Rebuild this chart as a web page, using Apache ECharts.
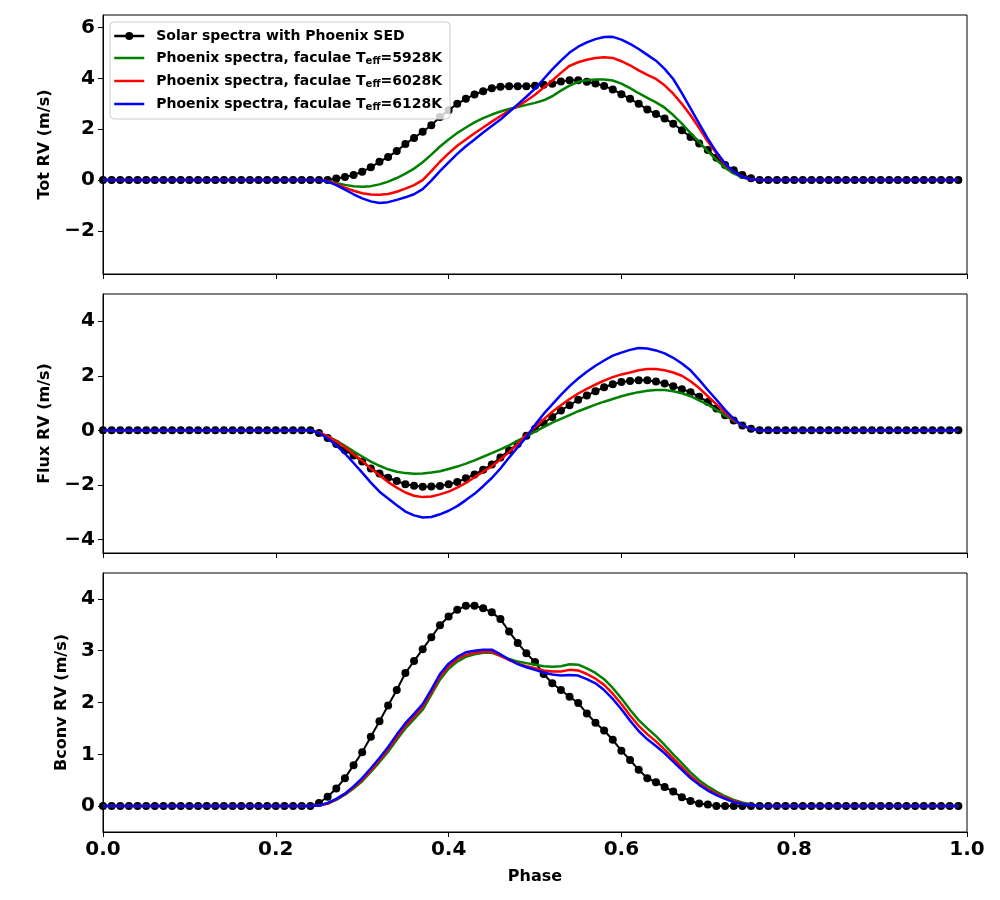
<!DOCTYPE html>
<html>
<head>
<meta charset="utf-8">
<script src="https://cdn.jsdelivr.net/npm/echarts@6/dist/echarts.min.js"></script>
<style>
html, body { margin: 0; padding: 0; background: #fff; }
#main { width: 1000px; height: 900px; }
</style>
</head>
<body>
<div id="main"></div>
<script>
// phase grid of the data
var phase = [
  0.00,0.01,0.02,0.03,0.04,0.05,0.06,0.07,0.08,0.09,
  0.10,0.11,0.12,0.13,0.14,0.15,0.16,0.17,0.18,0.19,
  0.20,0.21,0.22,0.23,0.24,0.25,0.26,0.27,0.28,0.29,
  0.30,0.31,0.32,0.33,0.34,0.35,0.36,0.37,0.38,0.39,
  0.40,0.41,0.42,0.43,0.44,0.45,0.46,0.47,0.48,0.49,
  0.50,0.51,0.52,0.53,0.54,0.55,0.56,0.57,0.58,0.59,
  0.60,0.61,0.62,0.63,0.64,0.65,0.66,0.67,0.68,0.69,
  0.70,0.71,0.72,0.73,0.74,0.75,0.76,0.77,0.78,0.79,
  0.80,0.81,0.82,0.83,0.84,0.85,0.86,0.87,0.88,0.89,
  0.90,0.91,0.92,0.93,0.94,0.95,0.96,0.97,0.98,0.99
];

var seriesNames = [
  'Solar spectra with Phoenix SED',
  'Phoenix spectra, faculae Teff=5928K',
  'Phoenix spectra, faculae Teff=6028K',
  'Phoenix spectra, faculae Teff=6128K'
];

// Tot RV
var totSolar = [
  0,0,0,0,0, 0,0,0,0,0, 0,0,0,0,0, 0,0,0,0,0, 0,0,0,0,0,
  0,0,0.06,0.12,0.2,0.33,0.5,0.72,0.91,1.14,1.42,1.66,1.9,2.16,2.48,2.75,3.0,3.2,3.37,3.5,3.62,3.67,3.69,3.69,3.69,3.71,3.75,3.79,3.88,3.93,3.93,3.87,3.8,3.7,3.57,3.38,3.2,3.0,2.78,2.6,2.42,2.22,1.96,1.7,1.44,1.18,0.88,0.59,0.39,0.2,0.07,
  0,0,0,0,0, 0,0,0,0,0, 0,0,0,0,0, 0,0,0,0,0, 0,0,0,0
];
var tot5928 = [
  0,0,0,0,0, 0,0,0,0,0, 0,0,0,0,0, 0,0,0,0,0, 0,0,0,0,0,
  0,-0.05,-0.12,-0.19,-0.24,-0.26,-0.24,-0.17,-0.06,0.08,0.25,0.45,0.7,1.0,1.32,1.6,1.85,2.07,2.27,2.44,2.58,2.7,2.8,2.88,2.96,3.04,3.14,3.3,3.52,3.72,3.87,3.93,3.96,3.96,3.92,3.8,3.62,3.42,3.24,3.06,2.85,2.56,2.22,1.85,1.5,1.13,0.8,0.48,0.26,0.1,0.03,
  0,0,0,0,0, 0,0,0,0,0, 0,0,0,0,0, 0,0,0,0,0, 0,0,0,0
];
var tot6028 = [
  0,0,0,0,0, 0,0,0,0,0, 0,0,0,0,0, 0,0,0,0,0, 0,0,0,0,0,
  0,-0.05,-0.15,-0.3,-0.42,-0.52,-0.57,-0.58,-0.55,-0.46,-0.34,-0.2,0.0,0.35,0.72,1.05,1.35,1.6,1.84,2.07,2.3,2.52,2.73,2.92,3.12,3.36,3.64,3.92,4.22,4.5,4.64,4.74,4.81,4.84,4.81,4.68,4.52,4.32,4.14,3.98,3.73,3.4,3.0,2.55,2.05,1.52,1.06,0.6,0.33,0.13,0.03,
  0,0,0,0,0, 0,0,0,0,0, 0,0,0,0,0, 0,0,0,0,0, 0,0,0,0
];
var tot6128 = [
  0,0,0,0,0, 0,0,0,0,0, 0,0,0,0,0, 0,0,0,0,0, 0,0,0,0,0,
  0,-0.06,-0.2,-0.38,-0.56,-0.72,-0.84,-0.9,-0.87,-0.78,-0.68,-0.56,-0.36,-0.02,0.35,0.7,1.03,1.33,1.6,1.87,2.13,2.38,2.68,2.98,3.28,3.6,3.98,4.36,4.7,5.02,5.25,5.42,5.55,5.63,5.64,5.53,5.36,5.16,4.93,4.7,4.38,3.98,3.42,2.82,2.22,1.63,1.1,0.65,0.33,0.12,0.03,
  0,0,0,0,0, 0,0,0,0,0, 0,0,0,0,0, 0,0,0,0,0, 0,0,0,0
];

// Flux RV
var fluxSolar = [
  0,0,0,0,0, 0,0,0,0,0, 0,0,0,0,0, 0,0,0,0,0, 0,0,0,0,0,
  -0.1,-0.28,-0.5,-0.73,-0.92,-1.14,-1.4,-1.58,-1.74,-1.86,-1.98,-2.03,-2.07,-2.06,-2.04,-1.98,-1.9,-1.76,-1.62,-1.45,-1.25,-1.0,-0.73,-0.5,-0.2,0.06,0.27,0.49,0.73,0.92,1.12,1.28,1.43,1.58,1.69,1.77,1.81,1.84,1.84,1.79,1.72,1.62,1.51,1.4,1.23,1.04,0.8,0.55,0.36,0.18,0.06,
  0,0,0,0,0, 0,0,0,0,0, 0,0,0,0,0, 0,0,0,0,0, 0,0,0,0
];
var flux5928 = [
  0,0,0,0,0, 0,0,0,0,0, 0,0,0,0,0, 0,0,0,0,0, 0,0,0,0,0,
  -0.08,-0.22,-0.38,-0.57,-0.77,-0.96,-1.15,-1.3,-1.43,-1.52,-1.57,-1.59,-1.58,-1.55,-1.5,-1.42,-1.33,-1.22,-1.1,-0.97,-0.84,-0.7,-0.55,-0.38,-0.22,-0.05,0.12,0.28,0.42,0.56,0.7,0.82,0.94,1.05,1.15,1.25,1.33,1.4,1.45,1.48,1.48,1.43,1.36,1.25,1.1,0.94,0.75,0.55,0.35,0.17,0.05,
  0,0,0,0,0, 0,0,0,0,0, 0,0,0,0,0, 0,0,0,0,0, 0,0,0,0
];
var flux6028 = [
  0,0,0,0,0, 0,0,0,0,0, 0,0,0,0,0, 0,0,0,0,0, 0,0,0,0,0,
  -0.08,-0.22,-0.4,-0.62,-0.88,-1.12,-1.4,-1.65,-1.9,-2.1,-2.28,-2.4,-2.45,-2.43,-2.35,-2.25,-2.1,-1.93,-1.72,-1.52,-1.32,-1.07,-0.8,-0.5,-0.18,0.12,0.4,0.68,0.92,1.15,1.35,1.52,1.68,1.82,1.95,2.05,2.12,2.2,2.25,2.25,2.2,2.12,2.0,1.8,1.55,1.25,0.95,0.65,0.38,0.17,0.06,
  0,0,0,0,0, 0,0,0,0,0, 0,0,0,0,0, 0,0,0,0,0, 0,0,0,0
];
var flux6128 = [
  0,0,0,0,0, 0,0,0,0,0, 0,0,0,0,0, 0,0,0,0,0, 0,0,0,0,0,
  -0.1,-0.3,-0.55,-0.85,-1.2,-1.55,-1.92,-2.25,-2.5,-2.75,-2.98,-3.12,-3.2,-3.18,-3.08,-2.95,-2.78,-2.56,-2.33,-2.05,-1.75,-1.4,-1.0,-0.62,-0.25,0.2,0.6,0.95,1.3,1.62,1.9,2.15,2.37,2.56,2.74,2.85,2.95,3.02,3.0,2.93,2.82,2.66,2.45,2.2,1.85,1.48,1.12,0.75,0.42,0.18,0.06,
  0,0,0,0,0, 0,0,0,0,0, 0,0,0,0,0, 0,0,0,0,0, 0,0,0,0
];

// Bconv RV
var bconvSolar = [
  0,0,0,0,0, 0,0,0,0,0, 0,0,0,0,0, 0,0,0,0,0, 0,0,0,0,0,
  0.06,0.18,0.34,0.54,0.79,1.04,1.34,1.64,1.94,2.24,2.57,2.8,3.03,3.26,3.49,3.66,3.79,3.87,3.87,3.82,3.74,3.61,3.37,3.15,2.95,2.78,2.55,2.37,2.24,2.11,1.99,1.79,1.61,1.46,1.28,1.07,0.89,0.7,0.54,0.46,0.37,0.28,0.17,0.1,0.05,0.03,0,0,0,0,0,
  0,0,0,0,0, 0,0,0,0,0, 0,0,0,0,0, 0,0,0,0,0, 0,0,0,0
];
var bconv5928 = [
  0,0,0,0,0, 0,0,0,0,0, 0,0,0,0,0, 0,0,0,0,0, 0,0,0,0,0,
  0.01,0.05,0.12,0.22,0.34,0.48,0.66,0.85,1.05,1.28,1.5,1.68,1.86,2.15,2.44,2.65,2.79,2.88,2.93,2.96,2.96,2.9,2.84,2.79,2.76,2.73,2.7,2.69,2.7,2.74,2.73,2.66,2.57,2.45,2.28,2.08,1.86,1.66,1.5,1.35,1.18,1.0,0.83,0.65,0.5,0.38,0.28,0.19,0.12,0.07,0.03,
  0,0,0,0,0, 0,0,0,0,0, 0,0,0,0,0, 0,0,0,0,0, 0,0,0,0
];
var bconv6028 = [
  0,0,0,0,0, 0,0,0,0,0, 0,0,0,0,0, 0,0,0,0,0, 0,0,0,0,0,
  0.01,0.05,0.13,0.23,0.36,0.51,0.69,0.89,1.1,1.33,1.55,1.73,1.92,2.2,2.5,2.7,2.84,2.92,2.96,2.98,2.98,2.9,2.82,2.75,2.7,2.66,2.62,2.6,2.6,2.63,2.62,2.55,2.46,2.34,2.17,1.97,1.75,1.55,1.39,1.25,1.09,0.92,0.75,0.58,0.44,0.33,0.24,0.16,0.1,0.05,0.02,
  0,0,0,0,0, 0,0,0,0,0, 0,0,0,0,0, 0,0,0,0,0, 0,0,0,0
];
var bconv6128 = [
  0,0,0,0,0, 0,0,0,0,0, 0,0,0,0,0, 0,0,0,0,0, 0,0,0,0,0,
  0.01,0.06,0.14,0.24,0.38,0.54,0.73,0.93,1.14,1.38,1.6,1.78,1.97,2.25,2.55,2.75,2.88,2.97,3.0,3.02,3.02,2.93,2.83,2.74,2.68,2.63,2.58,2.54,2.52,2.53,2.52,2.45,2.37,2.24,2.07,1.87,1.65,1.45,1.29,1.16,1.02,0.86,0.7,0.54,0.41,0.3,0.21,0.14,0.08,0.04,0.02,
  0,0,0,0,0, 0,0,0,0,0, 0,0,0,0,0, 0,0,0,0,0, 0,0,0,0
];

var totTicks = [-2, 0, 2, 4, 6];
var fluxTicks = [-4, -2, 0, 2, 4];
var bconvTicks = [0, 1, 2, 3, 4];
var phaseTicks = [0, 0.2, 0.4, 0.6, 0.8, 1.0];

var FONT = 'DejaVu Sans';
var colors = ['#000000', '#008000', '#ff0000', '#0000ff'];

var panels = [
  { title: 'Tot RV (m/s)', min: -3.7, max: 6.5, ticks: totTicks, gap: 50,
    data: [totSolar, tot5928, tot6028, tot6128] },
  { title: 'Flux RV (m/s)', min: -4.5, max: 5, ticks: fluxTicks, gap: 50,
    data: [fluxSolar, flux5928, flux6028, flux6128] },
  { title: 'Bconv RV (m/s)', min: -0.5, max: 4.5, ticks: bconvTicks, gap: 32,
    data: [bconvSolar, bconv5928, bconv6028, bconv6128] }
];

function fmtY(v) {
  return v < 0 ? '\u2212' + (-v) : String(v);
}

var grids = [], xAxes = [], yAxes = [], series = [];
panels.forEach(function (p, i) {
  grids.push({
    left: 103, right: 33, top: 15 + i * 279, height: 259,
    show: true, borderColor: '#000', borderWidth: 1, backgroundColor: 'transparent'
  });
  xAxes.push({
    type: 'value', gridIndex: i, min: 0, max: 1,
    axisLine: { show: true, onZero: false, lineStyle: { color: '#000', width: 1 } },
    axisTick: { show: true, length: 5, customValues: phaseTicks, lineStyle: { color: '#000', width: 1 } },
    axisLabel: {
      show: i === 2, customValues: phaseTicks, margin: 8,
      fontFamily: FONT, fontWeight: 'bold', fontSize: 20, color: '#000',
      formatter: function (v) { return v.toFixed(1); }
    },
    splitLine: { show: false },
    name: i === 2 ? 'Phase' : '', nameLocation: 'middle', nameGap: 37,
    nameTextStyle: { fontFamily: FONT, fontWeight: 'bold', fontSize: 16, color: '#000' }
  });
  yAxes.push({
    type: 'value', gridIndex: i, min: p.min, max: p.max,
    axisLine: { show: true, onZero: false, lineStyle: { color: '#000', width: 1 } },
    axisTick: { show: true, length: 5, customValues: p.ticks, lineStyle: { color: '#000', width: 1 } },
    axisLabel: {
      customValues: p.ticks, margin: 8,
      fontFamily: FONT, fontWeight: 'bold', fontSize: 20, color: '#000',
      formatter: fmtY
    },
    splitLine: { show: false },
    name: p.title, nameLocation: 'middle', nameGap: p.gap,
    nameTextStyle: { fontFamily: FONT, fontWeight: 'bold', fontSize: 16, color: '#000' }
  });
  p.data.forEach(function (vals, k) {
    var pts = phase.map(function (x, j) { return [x, vals[j]]; });
    series.push({
      name: seriesNames[k], type: 'line', xAxisIndex: i, yAxisIndex: i,
      data: pts, color: colors[k],
      symbol: k === 0 ? 'circle' : 'none', symbolSize: 8, showSymbol: k === 0,
      itemStyle: { color: colors[k] },
      lineStyle: { color: colors[k], width: k === 0 ? 2 : 2.5 },
      z: 2 + k
    });
  });
});

// legend: only the solar series shows a marker on its handle
var legendData = seriesNames.map(function (n, k) {
  return k === 0 ? { name: n } : { name: n, itemStyle: { opacity: 0 } };
});

var myChart = echarts.init(document.getElementById('main'));
var option = {
  backgroundColor: '#fff',
  animation: false,
  grid: grids,
  xAxis: xAxes,
  yAxis: yAxes,
  legend: {
    data: legendData,
    orient: 'vertical',
    left: 110, top: 22,
    itemWidth: 30, itemHeight: 10, itemGap: 8,
    padding: [7, 8, 7, 3],
    backgroundColor: 'rgba(255,255,255,0.8)',
    borderColor: '#cccccc', borderWidth: 1, borderRadius: 4,
    lineStyle: { width: 2.5 },
    formatter: function (name) {
      var m = name.match(/^(.*T)eff(=.*)$/);
      if (m) return '{g|}{b|' + m[1] + '}{s|eff}{b|' + m[2] + '}';
      return '{g|}{b|' + name + '}';
    },
    textStyle: {
      rich: {
        g: { width: 7 },
        b: { fontFamily: FONT, fontWeight: 'bold', fontSize: 14, color: '#000', lineHeight: 16 },
        s: { fontFamily: FONT, fontWeight: 'bold', fontSize: 10, color: '#000', lineHeight: 10, verticalAlign: 'bottom' }
      }
    }
  },
  series: series
};
myChart.setOption(option);
</script>
</body>
</html>
